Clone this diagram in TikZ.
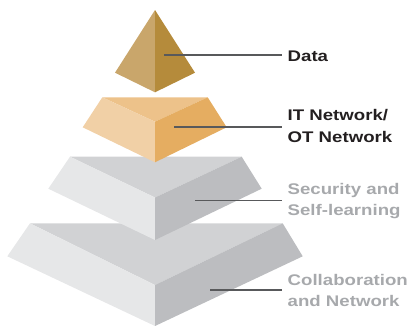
\documentclass[tikz,border=0pt]{standalone}
\usepackage{fontspec}
\newfontfamily\labfont[FakeStretch=1.21]{Liberation Sans}
\definecolor{goldL}{HTML}{C9A66B}
\definecolor{goldR}{HTML}{B58B3B}
\definecolor{orT}{HTML}{EDC28A}
\definecolor{orL}{HTML}{F1D0A6}
\definecolor{orR}{HTML}{E5AD61}
\definecolor{grT}{HTML}{D1D2D4}
\definecolor{grL}{HTML}{E6E7E8}
\definecolor{grR}{HTML}{BCBDC0}
\definecolor{lineC}{HTML}{58595B}
\definecolor{txtDark}{HTML}{231F20}
\definecolor{txtGray}{HTML}{A7A9AC}
\tikzset{
  leader/.style={draw=lineC, line width=1.1pt},
  lab/.style={anchor=west, inner xsep=6pt, inner ysep=0pt, align=left,
    font=\labfont\bfseries\fontsize{15.4}{21.7}\selectfont},
  darklab/.style={lab, text=txtDark},
  graylab/.style={lab, text=txtGray},
}
\begin{document}
\begin{tikzpicture}[x=1pt, y=-1pt]
\useasboundingbox (0,0) rectangle (407,325);
% bottom layer
\fill[grT] (30,223.3) -- (282.7,223.3) -- (155,285) -- cycle;
\fill[grL] (30,223.3) -- (155,285) -- (155,326) -- (7.3,256.3) -- cycle;
\fill[grR] (282.7,223.3) -- (302.7,256.3) -- (155,326) -- (155,285) -- cycle;
% third layer
\fill[grT] (70,156.7) -- (241.7,156.7) -- (155,197.5) -- cycle;
\fill[grL] (70,156.7) -- (155,197.5) -- (155,240) -- (48.3,188.7) -- cycle;
\fill[grR] (241.7,156.7) -- (261.7,188.7) -- (155,240) -- (155,197.5) -- cycle;
% orange layer
\fill[orT] (102.3,97.3) -- (207.7,97.3) -- (155,121.7) -- cycle;
\fill[orL] (102.3,97.3) -- (155,121.7) -- (155,162.3) -- (82.7,127.3) -- cycle;
\fill[orR] (207.7,97.3) -- (226.7,127.3) -- (155,162.3) -- (155,121.7) -- cycle;
% top pyramid
\fill[goldL] (155,10) -- (155,92.3) -- (115,72.7) -- cycle;
\fill[goldR] (155,10) -- (195,72.7) -- (155,92.3) -- cycle;
% leaders and labels
\coordinate (p1) at (164,55);
\coordinate (p2) at (174,127);
\coordinate (p3) at (195,200.5);
\coordinate (p4) at (210,290);
\node[darklab] (l1) at (281.5,56) {Data};
\node[darklab] (l2) at (281.5,126) {IT Network/\\OT Network};
\node[graylab] (l3) at (281.5,201) {Security and\\Self-learning};
\node[graylab] (l4) at (281.5,290.5) {Collaboration\\and Network};
\draw[leader] (p1) -- (p1 -| l1.west);
\draw[leader] (p2) -- (p2 -| l2.west);
\draw[leader] (p3) -- (p3 -| l3.west);
\draw[leader] (p4) -- (p4 -| l4.west);
\end{tikzpicture}
\end{document}
